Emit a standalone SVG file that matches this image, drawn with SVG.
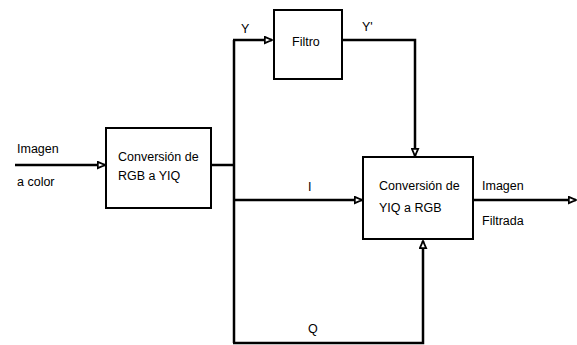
<svg xmlns="http://www.w3.org/2000/svg" width="577" height="345" viewBox="0 0 577 345">
<style>
.box{fill:#fff;stroke:#000;stroke-width:2}
.ln{fill:none;stroke:#000;stroke-width:2.5}
text{font-family:"Liberation Sans",Arial,sans-serif;font-size:12.5px;fill:#000}
</style>
<defs>
<marker id="ah" viewBox="0 0 10 10" refX="9" refY="5" markerWidth="9" markerHeight="9" markerUnits="userSpaceOnUse" orient="auto">
<path d="M1,1.5 L9,5 L1,8.5 Z" fill="#fff" stroke="#000" stroke-width="2"/>
</marker>
</defs>
<rect width="577" height="345" fill="#fff"/>
<g id="connectors">
<line class="ln" x1="15" y1="165" x2="105" y2="165" marker-end="url(#ah)"/>
<line class="ln" x1="211" y1="165" x2="234" y2="165"/>
<line class="ln" x1="234" y1="40" x2="234" y2="343"/>
<line class="ln" x1="233" y1="40" x2="272" y2="40" marker-end="url(#ah)"/>
<polyline class="ln" points="342,40 415,40 415,156" marker-end="url(#ah)"/>
<line class="ln" x1="234" y1="200" x2="362" y2="200" marker-end="url(#ah)"/>
<polyline class="ln" points="233,343 423,343 423,241" marker-end="url(#ah)"/>
<line class="ln" x1="474" y1="200" x2="576" y2="200" marker-end="url(#ah)"/>
<text x="17" y="153">Imagen</text>
<text x="17" y="186">a color</text>
<text x="241" y="33">Y</text>
<text x="362" y="31">Y'</text>
<text x="308" y="191">I</text>
<text x="308" y="333">Q</text>
<text x="482" y="190">Imagen</text>
<text x="482" y="225">Filtrada</text>
</g>
<g id="rgb2yiq">
<rect class="box" x="106" y="128" width="105" height="80"/>
<text x="118" y="161">Conversión de</text>
<text x="118" y="180">RGB a YIQ</text>
</g>
<g id="filtro">
<rect class="box" x="274" y="10" width="68" height="69"/>
<text x="292" y="46">Filtro</text>
</g>
<g id="yiq2rgb">
<rect class="box" x="363" y="157" width="110" height="82"/>
<text x="379" y="190">Conversión de</text>
<text x="379" y="212">YIQ a RGB</text>
</g>
</svg>
